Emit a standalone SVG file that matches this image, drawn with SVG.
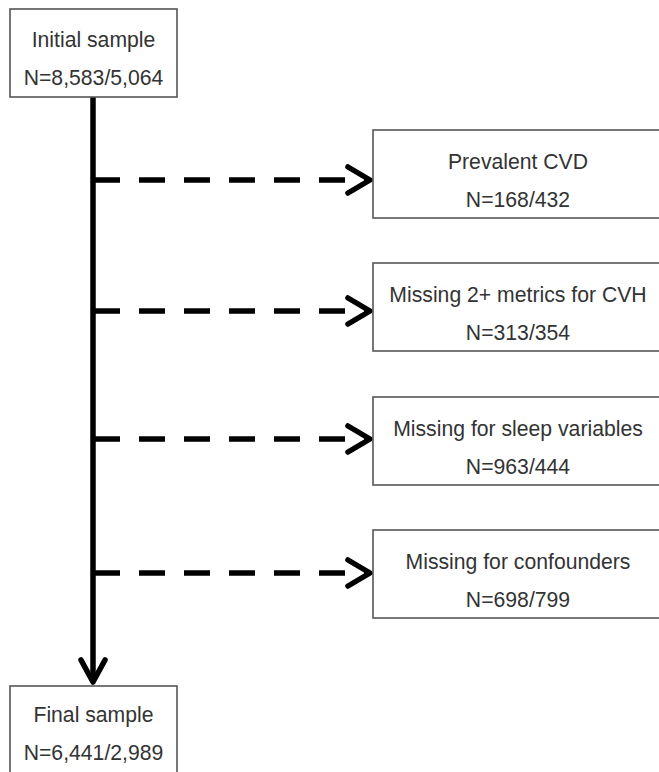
<svg xmlns="http://www.w3.org/2000/svg" width="659" height="772" viewBox="0 0 659 772">
<style>
.box{fill:#fff;stroke:#555;stroke-width:1.6}
.t{font-family:"Liberation Sans",Arial,sans-serif;font-size:21.2px;fill:#333;text-anchor:middle}
.main{stroke:#000;stroke-width:5.5;fill:none}
.dash{stroke:#000;stroke-width:5.5;fill:none;stroke-dasharray:26 19}
.head{stroke:#000;stroke-width:5.5;fill:none;stroke-linecap:round;stroke-linejoin:round}
</style>
<rect width="659" height="772" fill="#fff"/>
<g id="connectors">
<line class="main" x1="93" y1="97" x2="93" y2="682"/>
<polyline class="head" points="81,660 93,682 105,660"/>
<line class="dash" x1="94" y1="180" x2="368" y2="180"/>
<polyline class="head" points="348,167 370,180 348,193"/>
<line class="dash" x1="94" y1="311" x2="368" y2="311"/>
<polyline class="head" points="348,298 370,311 348,324"/>
<line class="dash" x1="94" y1="439" x2="368" y2="439"/>
<polyline class="head" points="348,426 370,439 348,452"/>
<line class="dash" x1="94" y1="573" x2="368" y2="573"/>
<polyline class="head" points="348,560 370,573 348,586"/>
</g>
<g id="initial">
<rect class="box" x="10" y="9" width="167" height="88"/>
<text class="t" x="93.5" y="47">Initial sample</text>
<text class="t" x="93.5" y="85">N=8,583/5,064</text>
</g>
<g id="prevalent">
<rect class="box" x="373" y="130" width="292" height="88"/>
<text class="t" x="518" y="169">Prevalent CVD</text>
<text class="t" x="518" y="207">N=168/432</text>
</g>
<g id="missing-cvh">
<rect class="box" x="373" y="263" width="292" height="88"/>
<text class="t" x="518" y="302">Missing 2+ metrics for CVH</text>
<text class="t" x="518" y="340">N=313/354</text>
</g>
<g id="missing-sleep">
<rect class="box" x="373" y="397" width="292" height="88"/>
<text class="t" x="518" y="436">Missing for sleep variables</text>
<text class="t" x="518" y="474">N=963/444</text>
</g>
<g id="missing-conf">
<rect class="box" x="373" y="530" width="292" height="88"/>
<text class="t" x="518" y="569">Missing for confounders</text>
<text class="t" x="518" y="607">N=698/799</text>
</g>
<g id="final">
<rect class="box" x="10" y="686" width="167" height="100"/>
<text class="t" x="93.5" y="722">Final sample</text>
<text class="t" x="93.5" y="760">N=6,441/2,989</text>
</g>
</svg>
